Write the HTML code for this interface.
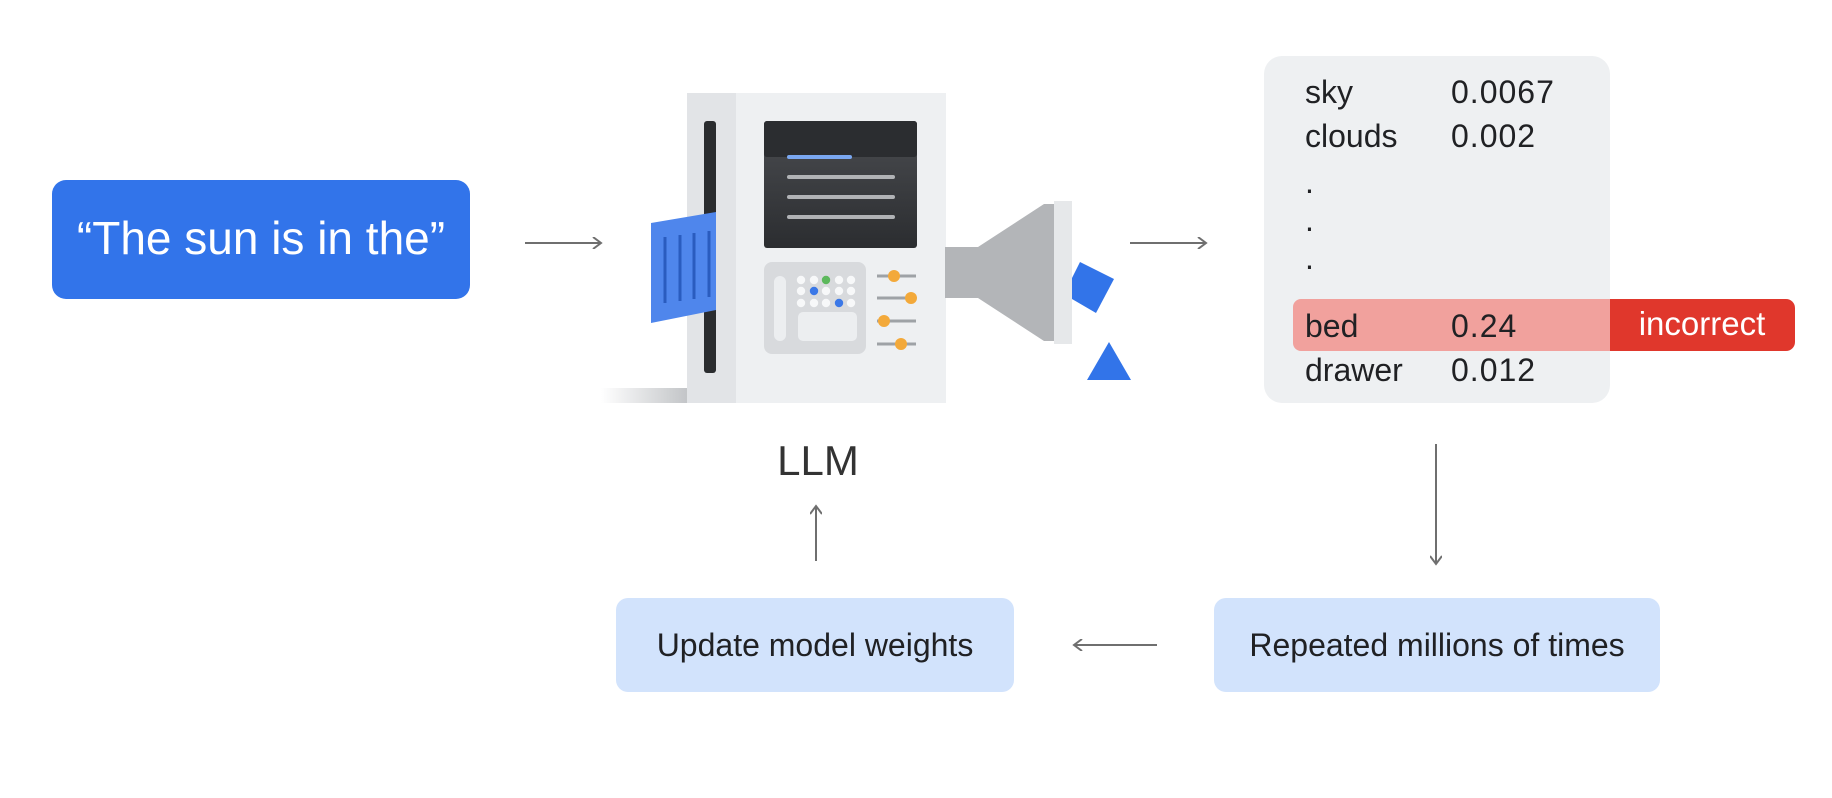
<!DOCTYPE html>
<html><head><meta charset="utf-8"><style>
html,body{margin:0;padding:0;background:#fff;}
svg{display:block;}
text{font-family:"Liberation Sans",sans-serif;}
</style></head><body>
<svg width="1832" height="798" viewBox="0 0 1832 798" xmlns="http://www.w3.org/2000/svg">
<defs>
<linearGradient id="sh" x1="0" x2="1" y1="0" y2="0"><stop offset="0" stop-color="#fff"/><stop offset="1" stop-color="#c3c5c8"/></linearGradient>
<linearGradient id="scr" x1="0" x2="0" y1="0" y2="1"><stop offset="0" stop-color="#4b4d51"/><stop offset="1" stop-color="#2b2d30"/></linearGradient>
<marker id="ah" markerWidth="12" markerHeight="12" refX="10" refY="6" orient="auto" markerUnits="userSpaceOnUse"><path d="M2,0 L10,6 L2,12" fill="none" stroke="#6f6f6f" stroke-width="2"/></marker>
</defs>

<rect x="52" y="180" width="418" height="119" rx="14" fill="#3274ea"/>
<text x="261" y="254" font-size="46" fill="#fff" text-anchor="middle">“The sun is in the”</text>

<line x1="525" y1="243" x2="601" y2="243" stroke="#6f6f6f" stroke-width="2" marker-end="url(#ah)"/>
<line x1="1130" y1="243" x2="1206" y2="243" stroke="#6f6f6f" stroke-width="2" marker-end="url(#ah)"/>
<line x1="1436" y1="444" x2="1436" y2="564" stroke="#6f6f6f" stroke-width="2" marker-end="url(#ah)"/>
<line x1="1157" y1="645" x2="1074" y2="645" stroke="#6f6f6f" stroke-width="2" marker-end="url(#ah)"/>
<line x1="816" y1="561" x2="816" y2="506" stroke="#6f6f6f" stroke-width="2" marker-end="url(#ah)"/>

<rect x="601" y="388" width="86" height="15" fill="url(#sh)"/>
<rect x="687" y="93" width="259" height="310" fill="#eef0f2"/>
<rect x="687" y="93" width="49" height="310" fill="#e2e4e7"/>
<rect x="704" y="121" width="12" height="252" rx="3" fill="#2a2c2f"/>
<rect x="764" y="121" width="153" height="127" rx="3" fill="url(#scr)"/>
<rect x="764" y="121" width="153" height="36" rx="3" fill="#2b2d30"/>
<rect x="787" y="155" width="65" height="4" rx="2" fill="#7aa7f0"/>
<rect x="787" y="175" width="108" height="4" rx="2" fill="#b0b2b5"/>
<rect x="787" y="195" width="108" height="4" rx="2" fill="#b0b2b5"/>
<rect x="787" y="215" width="108" height="4" rx="2" fill="#b0b2b5"/>
<rect x="764" y="262" width="102" height="92" rx="8" fill="#d8dadd"/>
<rect x="774" y="276" width="12" height="65" rx="6" fill="#eceef0"/>
<rect x="798" y="312" width="59" height="29" rx="5" fill="#eceef0"/>
<g fill="#f7f8f9">
<circle cx="801" cy="280" r="4.2"/><circle cx="814" cy="280" r="4.2"/><circle cx="826" cy="280" r="4.2" fill="#5cb85c"/><circle cx="839" cy="280" r="4.2"/><circle cx="851" cy="280" r="4.2"/>
<circle cx="801" cy="291" r="4.2"/><circle cx="814" cy="291" r="4.2" fill="#3b78e7"/><circle cx="826" cy="291" r="4.2"/><circle cx="839" cy="291" r="4.2"/><circle cx="851" cy="291" r="4.2"/>
<circle cx="801" cy="303" r="4.2"/><circle cx="814" cy="303" r="4.2"/><circle cx="826" cy="303" r="4.2"/><circle cx="839" cy="303" r="4.2" fill="#3b78e7"/><circle cx="851" cy="303" r="4.2"/>
</g>
<g stroke="#9ea2a6" stroke-width="3"><line x1="877" y1="276" x2="916" y2="276"/><line x1="877" y1="298" x2="916" y2="298"/><line x1="877" y1="321" x2="916" y2="321"/><line x1="877" y1="344" x2="916" y2="344"/></g>
<g fill="#f3a93a"><circle cx="894" cy="276" r="6"/><circle cx="911" cy="298" r="6"/><circle cx="884" cy="321" r="6"/><circle cx="901" cy="344" r="6"/></g>
<polygon points="651,223 716,212 716,310 651,323" fill="#4f86ec"/>
<g stroke="#2a5cbf" stroke-width="3"><line x1="665" y1="237" x2="665" y2="303"/><line x1="680" y1="235" x2="680" y2="301"/><line x1="694" y1="233" x2="694" y2="299"/><line x1="709" y1="231" x2="709" y2="297"/></g>
<polygon points="945,247 978,247 1044,204 1056,204 1056,341 1044,341 978,298 945,298" fill="#b3b5b8"/>
<rect x="1054" y="201" width="18" height="143" fill="#e6e8ea"/>
<polygon points="1080,262 1114,279 1096,313 1072,299 1072,278" fill="#3274e9"/>
<polygon points="1087,380 1109,342 1131,380" fill="#3274e9"/>
<text x="818" y="475" font-size="42" fill="#333" text-anchor="middle">LLM</text>

<rect x="1264" y="56" width="346" height="347" rx="18" fill="#eef0f2"/>
<rect x="1293" y="299" width="330" height="52" rx="8" fill="#f1a19d"/>
<path d="M1610,299 H1786 a9,9 0 0 1 9,9 V342 a9,9 0 0 1 -9,9 H1610 Z" fill="#e0372c"/>
<g font-size="32" fill="#202124">
<text x="1305" y="103">sky</text><text x="1451" y="103" letter-spacing="1">0.0067</text>
<text x="1305" y="147">clouds</text><text x="1451" y="147" letter-spacing="1">0.002</text>
<text x="1305" y="193">.</text><text x="1305" y="231">.</text><text x="1305" y="269">.</text>
<text x="1305" y="337">bed</text><text x="1451" y="337" letter-spacing="1">0.24</text>
<text x="1305" y="381">drawer</text><text x="1451" y="381" letter-spacing="1">0.012</text>
</g>
<text x="1702" y="335" font-size="33" fill="#fff" text-anchor="middle">incorrect</text>

<rect x="616" y="598" width="398" height="94" rx="12" fill="#d2e3fc"/>
<text x="815" y="656" font-size="32" fill="#202124" text-anchor="middle">Update model weights</text>
<rect x="1214" y="598" width="446" height="94" rx="12" fill="#d2e3fc"/>
<text x="1437" y="656" font-size="32" fill="#202124" text-anchor="middle">Repeated millions of times</text>
</svg>
</body></html>
